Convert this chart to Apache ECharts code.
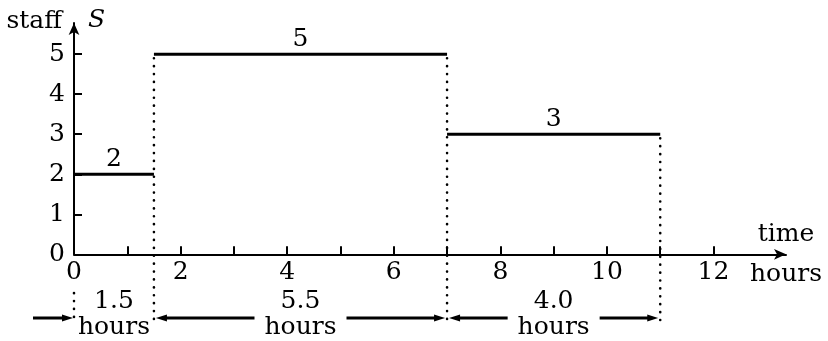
<!DOCTYPE html>
<html>
<head>
<meta charset="utf-8">
<script src="https://cdn.jsdelivr.net/npm/echarts@6/dist/echarts.min.js"></script>
<style>
  html, body { margin: 0; padding: 0; background: #fff; }
  #main { width: 828px; height: 341px; }
</style>
</head>
<body>
<div id="main"></div>
<script>
// hours at which the staffing level changes, and the level held in between
const changeTimes = [0, 1.5, 7, 11];
const staffLevels = [2, 5, 3];
const durationLabels = ['1.5', '5.5', '4.0'];
// axis ticks / labels
const xTickValues = [1, 2, 3, 4, 5, 6, 7, 8, 9, 10, 11, 12];
const xLabelValues = [0, 2, 4, 6, 8, 10, 12];
const yTickValues = [1, 2, 3, 4, 5];
const yLabelValues = [0, 1, 2, 3, 4, 5];

const FONT = '"DejaVu Serif", "Liberation Serif", serif';
const FS = 25;
const X_MAX = 13.36;
const Y_MAX = 5.78;

// segments [start, end, level]
const segments = staffLevels.map((v, i) => [changeTimes[i], changeTimes[i + 1], v]);
// dotted guides [x, top]
const guides = changeTimes.slice(1).map((t, i) =>
  [t, Math.max(staffLevels[i], staffLevels[i + 1] === undefined ? 0 : staffLevels[i + 1])]);
// interval annotations [start, end, index]
const intervals = durationLabels.map((d, i) => [changeTimes[i], changeTimes[i + 1], i]);

const GUIDE_BOTTOM = -1.7;
const ROW_NUM = -1.18;
const ROW_HOURS = -1.84;
const ROW_ARROW = -1.59;
const DOTS = {stroke: '#000', lineWidth: 2.6, lineDash: [0.1, 7.8], lineCap: 'round'};

function arrow(tail, tip, y) {
  const dir = tip > tail ? 1 : -1;
  return [
    {type: 'line', shape: {x1: tail, y1: y, x2: tip - dir * 6, y2: y},
     style: {stroke: '#000', lineWidth: 3}},
    {type: 'polygon', shape: {points: [[tip, y], [tip - dir * 11, y - 3.5], [tip - dir * 11, y + 3.5]]},
     style: {fill: '#000'}}
  ];
}

function txt(x, y, text, extra) {
  return Object.assign({type: 'text', x: x, y: y,
    style: Object.assign({text: text, fontFamily: FONT, fontSize: FS,
      align: 'center', verticalAlign: 'middle', fill: '#000'}, extra || {})});
}

let chart = echarts.init(document.getElementById('main'));
let option = {
  animation: false,
  backgroundColor: '#fff',
  grid: { left: 74, right: 42, top: 23, bottom: 86.7, containLabel: false },
  xAxis: {
    type: 'value', min: 0, max: X_MAX,
    splitLine: {show: false},
    axisLine: {show: true, onZero: false, symbol: ['none', 'arrow'], symbolSize: [8, 12],
      lineStyle: {color: '#000', width: 2}},
    axisTick: {show: true, inside: true, length: 8, customValues: xTickValues,
      lineStyle: {color: '#000', width: 2}},
    axisLabel: {show: true, customValues: xLabelValues, margin: 6,
      color: '#000', fontFamily: FONT, fontSize: FS},
    name: '{a|time}\n{b|hours}',
    nameLocation: 'end',
    nameGap: 0,
    nameTextStyle: {align: 'center', verticalAlign: 'middle',
      rich: {a: {fontFamily: FONT, fontSize: FS, lineHeight: 40, color: '#000'},
             b: {fontFamily: FONT, fontSize: FS, lineHeight: 40, color: '#000'}}}
  },
  yAxis: {
    type: 'value', min: 0, max: Y_MAX,
    splitLine: {show: false},
    axisLine: {show: true, onZero: false, symbol: ['none', 'arrow'], symbolSize: [8, 12],
      lineStyle: {color: '#000', width: 2}},
    axisTick: {show: true, inside: true, length: 8, customValues: yTickValues,
      lineStyle: {color: '#000', width: 2}},
    axisLabel: {show: true, customValues: yLabelValues, margin: 9,
      color: '#000', fontFamily: FONT, fontSize: FS}
  },
  series: [
    {
      // dotted guides
      type: 'custom', clip: false, data: guides,
      renderItem: (params, api) => {
        const a = api.coord([api.value(0), api.value(1)]);
        const b = api.coord([api.value(0), GUIDE_BOTTOM]);
        return {type: 'line', shape: {x1: a[0], y1: a[1] + 4, x2: b[0], y2: b[1]}, style: DOTS};
      }
    },
    {
      // staffing levels
      type: 'custom', clip: false, data: segments,
      renderItem: (params, api) => {
        const a = api.coord([api.value(0), api.value(2)]);
        const b = api.coord([api.value(1), api.value(2)]);
        return {type: 'group', children: [
          {type: 'line', shape: {x1: a[0], y1: a[1], x2: b[0], y2: b[1]},
           style: {stroke: '#000', lineWidth: 3}},
          txt((a[0] + b[0]) / 2, a[1] - 15, String(api.value(2)))
        ]};
      }
    },
    {
      // durations under the axis
      type: 'custom', clip: false, data: intervals,
      renderItem: (params, api) => {
        const s = api.value(0), e = api.value(1), i = api.value(2);
        const mid = (s + e) / 2;
        const pNum = api.coord([mid, ROW_NUM]);
        const pHours = api.coord([mid, ROW_HOURS]);
        const ps = api.coord([s, ROW_ARROW]);
        const pe = api.coord([e, ROW_ARROW]);
        const y = ps[1];
        let kids = [txt(pNum[0], pNum[1], durationLabels[i]), txt(pHours[0], pHours[1], 'hours')];
        if (pe[0] - ps[0] < 120) {
          // narrow interval: arrow from outside
          const g = api.coord([s, -0.97]);
          kids.push({type: 'line', shape: {x1: ps[0], y1: g[1], x2: ps[0], y2: y + 2}, style: DOTS});
          kids = kids.concat(arrow(ps[0] - 41, ps[0] - 1, y));
        } else {
          kids = kids.concat(arrow(pNum[0] - 46, ps[0] + 2, y));
          kids = kids.concat(arrow(pNum[0] + 46, pe[0] - 2, y));
        }
        return {type: 'group', children: kids};
      }
    },
    {
      // y axis name: "staff" left of the arrow, italic S right of it
      type: 'custom', clip: false, data: [[0, Y_MAX]],
      renderItem: (params, api) => {
        const p = api.coord([api.value(0), api.value(1)]);
        return {type: 'group', children: [
          txt(p[0] - 12, p[1] - 2, 'staff', {align: 'right'}),
          txt(p[0] + 14, p[1] - 3, 'S', {align: 'left', fontStyle: 'italic'})
        ]};
      }
    }
  ]
};
chart.setOption(option);
</script>
</body>
</html>
